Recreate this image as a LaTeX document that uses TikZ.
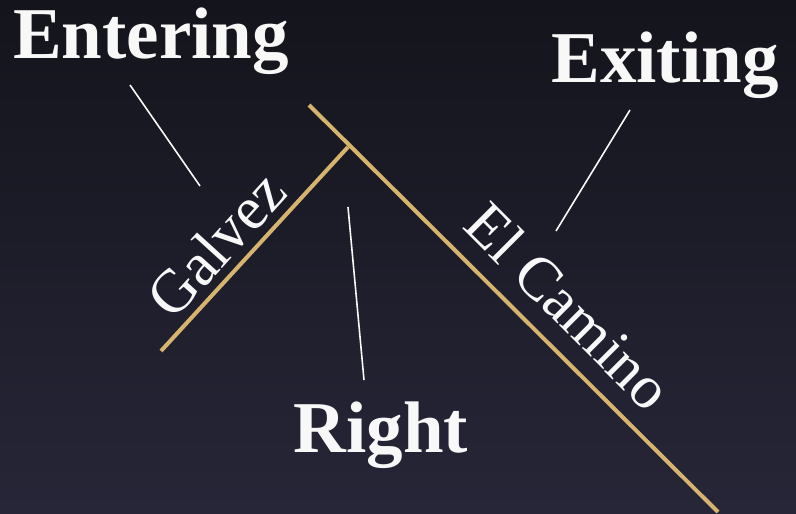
\documentclass[tikz,border=0pt]{standalone}
\usepackage{fontspec}
\setmainfont{Liberation Serif}
\definecolor{bgtop}{RGB}{20,20,28}
\definecolor{bgbot}{RGB}{38,38,56}
\definecolor{road}{RGB}{214,180,110}
\definecolor{ink}{RGB}{248,248,248}
\begin{document}
\begin{tikzpicture}[x=1pt,y=-1pt,
  roadline/.style={draw=road,line width=4pt},
  pointer/.style={draw=ink,line width=1.6pt},
  biglabel/.style={text=ink,font=\fontsize{73}{80}\selectfont\bfseries,inner sep=0pt,anchor=base},
  streetlabel/.style={text=ink,font=\fontsize{61}{66}\selectfont,inner sep=0pt}]
\shade[top color=bgtop,bottom color=bgbot] (0,0) rectangle (796,514);
\useasboundingbox (0,0) rectangle (796,514);
% roads
\coordinate (elA) at (309,105);
\coordinate (elB) at (718,512);
\coordinate (junc) at (348,147);
\coordinate (gaEnd) at (161,351);
\draw[roadline] (elA) -- (elB);
\draw[roadline] (junc) -- (gaEnd);
% street names
\node[streetlabel,rotate=47.8] (galvez) at (216,244) {Galvez};
\node[streetlabel,rotate=-45] (elcamino) at (569,306) {El Camino};
% labels
\node[biglabel] (entering) at (151,58) {Entering};
\node[biglabel] (exiting) at (665,82) {Exiting};
\node[biglabel] (right) at (381,452) {Right};
% pointers
\coordinate (p1a) at (130,85);
\coordinate (p1b) at (200,186);
\coordinate (p2a) at (630,110);
\coordinate (p2b) at (556,231);
\coordinate (p3a) at (348,207);
\coordinate (p3b) at (364,380);
\draw[pointer] (p1a) -- (p1b);
\draw[pointer] (p2a) -- (p2b);
\draw[pointer] (p3a) -- (p3b);
\end{tikzpicture}
\end{document}
